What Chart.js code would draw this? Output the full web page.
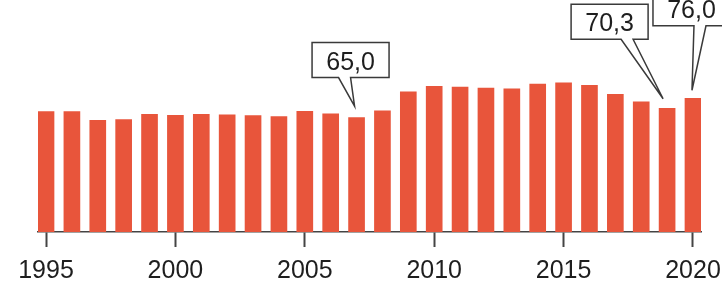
<!DOCTYPE html>
<html>
<head>
<meta charset="UTF-8">
<script src="https://cdn.jsdelivr.net/npm/chart.js@4.4.1/dist/chart.umd.min.js"></script>
<style>
  html, body { margin: 0; padding: 0; background: #ffffff; }
  #wrap { width: 722px; height: 283px; position: relative; }
</style>
</head>
<body>
<div id="wrap"><canvas id="myChart"></canvas></div>
<script>
// Werte je Jahr
const years = [1995, 1996, 1997, 1998, 1999, 2000, 2001, 2002, 2003, 2004, 2005, 2006, 2007,
               2008, 2009, 2010, 2011, 2012, 2013, 2014, 2015, 2016, 2017, 2018, 2019, 2020];
const values = [68.4, 68.4, 63.5, 63.8, 66.9, 66.3, 66.9, 66.6, 66.1, 65.5, 68.6, 67.2, 65.0,
                68.8, 79.7, 82.8, 82.4, 81.8, 81.3, 84.1, 84.7, 83.3, 78.2, 73.9, 70.3, 76.0];
const tickYears = [1995, 2000, 2005, 2010, 2015, 2020];
const calloutYears = [2007, 2019, 2020];
const calloutLabels = ['65,0', '70,3', '76,0'];

const FONT = '"Liberation Sans", Arial, sans-serif';

// Sprechblasen: Lage relativ zur Balkenoberkante
const calloutGeom = {
  2007: { tipDx: -2, tipDy: -11.5, boxDx: -6,    boxDy: -40,   baseDx: -6 },
  2019: { tipDx: -4, tipDy: -9.5,  boxDx: -57.5, boxDy: -69,   baseDx: 17.5 },
  2020: { tipDx: -1, tipDy: -8,    boxDx: -1.5,  boxDy: -72.5, baseDx: 8.5 }
};

const calloutPlugin = {
  id: 'callouts',
  afterDatasetsDraw(chart) {
    const ctx = chart.ctx;
    const meta = chart.getDatasetMeta(0);
    const boxW = 77, boxH = 35, baseW = 12;
    ctx.save();
    calloutYears.forEach((yr, k) => {
      const el = meta.data[years.indexOf(yr)];
      const g = calloutGeom[yr];
      const tipX = el.x + g.tipDx, tipY = el.y + g.tipDy;
      const cx = el.x + g.boxDx;
      const bottom = el.y + g.boxDy;
      const left = cx - boxW / 2, right = cx + boxW / 2, top = bottom - boxH;
      const bx = cx + g.baseDx;
      ctx.beginPath();
      ctx.moveTo(left, bottom);
      ctx.lineTo(bx - baseW / 2, bottom);
      ctx.lineTo(tipX, tipY);
      ctx.lineTo(bx + baseW / 2, bottom);
      ctx.lineTo(right, bottom);
      ctx.lineTo(right, top);
      ctx.lineTo(left, top);
      ctx.closePath();
      ctx.fillStyle = '#ffffff';
      ctx.fill();
      ctx.lineWidth = 1.5;
      ctx.strokeStyle = '#3a3a3a';
      ctx.lineJoin = 'miter';
      ctx.stroke();
      ctx.fillStyle = '#1e1e1e';
      ctx.font = '25px ' + FONT;
      ctx.textAlign = 'center';
      ctx.textBaseline = 'alphabetic';
      ctx.fillText(calloutLabels[k], cx, bottom - 8);
    });
    ctx.restore();
  }
};

const ctx = document.getElementById('myChart').getContext('2d');
new Chart(ctx, {
  type: 'bar',
  data: {
    datasets: [{
      data: years.map((y, i) => ({ x: y, y: values[i] })),
      backgroundColor: '#E8553B',
      borderWidth: 0,
      barThickness: 16
    }]
  },
  options: {
    responsive: true,
    maintainAspectRatio: false,
    animation: false,
    // unten negativ, damit die Beschriftung tiefer sitzt
    layout: { padding: { left: 38, right: 21, top: 0, bottom: -12 } },
    plugins: {
      legend: { display: false },
      tooltip: { enabled: false }
    },
    scales: {
      x: {
        type: 'linear',
        min: 1994.69,
        max: 2020.31,
        offset: false,
        afterBuildTicks(scale) {
          scale.ticks = tickYears.map(v => ({ value: v }));
        },
        grid: {
          offset: false,
          drawOnChartArea: false,
          drawTicks: true,
          tickLength: 15,
          tickWidth: 2,
          tickColor: '#444444'
        },
        border: { display: true, color: '#444444', width: 1.5 },
        ticks: {
          autoSkip: false,
          maxRotation: 0,
          padding: 0,
          color: '#1e1e1e',
          font: { family: FONT, size: 25, lineHeight: 1.92 },
          callback: v => String(v)
        }
      },
      y: {
        display: false,
        min: 0,
        max: 131.8
      }
    }
  },
  plugins: [calloutPlugin]
});
</script>
</body>
</html>
